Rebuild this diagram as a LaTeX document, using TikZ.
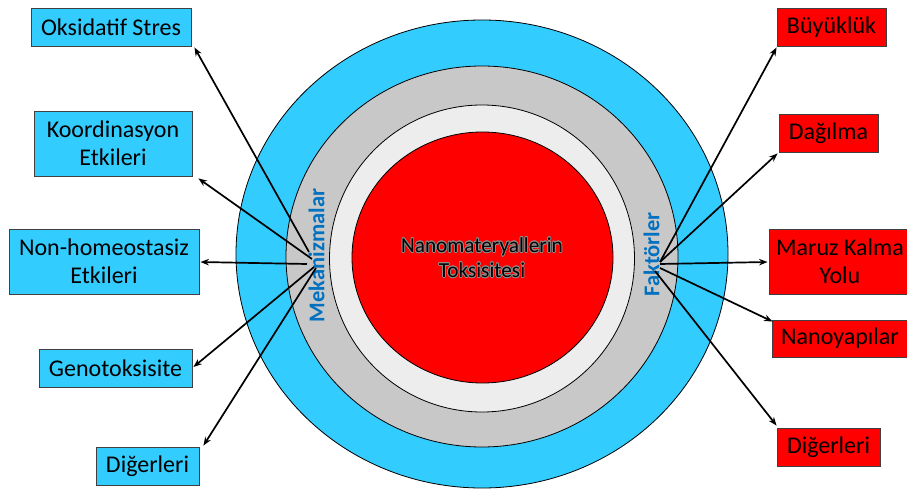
\documentclass[tikz,border=0pt]{standalone}
\usepackage{fontspec}
\setmainfont{Carlito}
\usepackage{contour}
\contourlength{0.7pt}
\usetikzlibrary{arrows.meta}
\definecolor{skyb}{HTML}{33CCFF}
\definecolor{redf}{HTML}{FF0000}
\definecolor{ringgray}{HTML}{C8C8C8}
\definecolor{ringlight}{HTML}{EDEDED}
\definecolor{lblue}{HTML}{0070C0}
\tikzset{
  ring/.style={draw=black, line width=0.8pt},
  boxbase/.style={draw=black!75, line width=0.9pt, inner sep=0pt, align=center,
    font=\fontsize{24}{28.5}\selectfont},
  bluebox/.style={boxbase, fill=skyb},
  redbox/.style={boxbase, fill=redf},
  sidelabel/.style={text=lblue, rotate=90, inner sep=0pt,
    font=\fontsize{22.5}{27}\selectfont\bfseries},
  arr/.style={line width=1.7pt, -{Stealth[length=8.5pt,width=6.5pt]}}
}
\begin{document}
\begin{tikzpicture}[x=1pt,y=-1pt]
\useasboundingbox (0,0) rectangle (907,489);
% rings
\fill[white] (0,0) rectangle (907,489);
\draw[ring, fill=skyb] (482,254) ellipse [x radius=246pt, y radius=234pt];
\draw[ring, fill=ringgray] (482,256.5) ellipse [x radius=196pt, y radius=190.5pt];
\draw[ring, fill=ringlight] (482,258.5) ellipse [x radius=152.5pt, y radius=153.5pt];
\draw[ring, fill=redf] (482.5,257.5) ellipse [x radius=130.5pt, y radius=125.5pt];
\node[align=center, inner sep=0pt, font=\fontsize{21.3}{25}\selectfont] (core) at (482,258)
  {\contour{black!45}{Nanomateryallerin}\\\contour{black!45}{Toksisitesi}};
\node[sidelabel] (mek) at (316.5,255.5) {Mekanizmalar};
\node[sidelabel] (fak) at (651.5,254.5) {Faktörler};
% left boxes
\node[bluebox, minimum width=160pt, minimum height=38pt] (ok) at (111,27) {Oksidatif Stres};
\node[bluebox, minimum width=158pt, minimum height=65pt] (ko) at (113,143.5) {Koordinasyon\\Etkileri};
\node[bluebox, minimum width=190pt, minimum height=65pt] (nh) at (104,261.5) {Non-homeostasiz\\Etkileri};
\node[bluebox, minimum width=153pt, minimum height=38pt] (ge) at (115.5,368) {Genotoksisite};
\node[bluebox, minimum width=103pt, minimum height=38pt] (dl) at (147.5,466) {Diğerleri};
% right boxes
\node[redbox, minimum width=109pt, minimum height=38pt] (bu) at (831.5,27) {Büyüklük};
\node[redbox, minimum width=99pt, minimum height=38pt] (da) at (828.5,133) {Dağılma};
\node[redbox, minimum width=142pt, minimum height=65pt] (ma) at (840,261.5) {Maruz Kalma\\Yolu};
\node[redbox, minimum width=136pt, minimum height=37pt] (na) at (840,338.5) {Nanoyapılar};
\node[redbox, minimum width=103pt, minimum height=38pt] (dr) at (828.5,447) {Diğerleri};
% hub coordinates
\coordinate (lo) at (309,252);
\coordinate (lk) at (312,259);
\coordinate (ln) at (307,264);
\coordinate (lg) at (314,267);
\coordinate (ld) at (316,268);
\coordinate (rb) at (660,262);
\coordinate (rd) at (660,262);
\coordinate (rm) at (660,264);
\coordinate (rn) at (660,268);
\coordinate (rr) at (655,271);
% arrows
\draw[arr] (lo) -- ([shift={(3,1)}]ok.south east);
\draw[arr] (lk) -- ([shift={(6,2)}]ko.south east);
\draw[arr] (ln) -- ([shift={(1,0.5)}]nh.east);
\draw[arr] (lg) -- ([shift={(1,-1)}]ge.east);
\draw[arr] (ld) -- ([shift={(4,-1)}]dl.north east);
\draw[arr] (rb) -- ([shift={(0,1)}]bu.south west);
\draw[arr] (rd) -- ([shift={(-1,1)}]da.south west);
\draw[arr] (rm) -- ([shift={(-1,0.5)}]ma.west);
\draw[arr] (rn) -- ([shift={(1,2)}]na.north west);
\draw[arr] (rr) -- ([shift={(0,-2)}]dr.north west);
\end{tikzpicture}
\end{document}
